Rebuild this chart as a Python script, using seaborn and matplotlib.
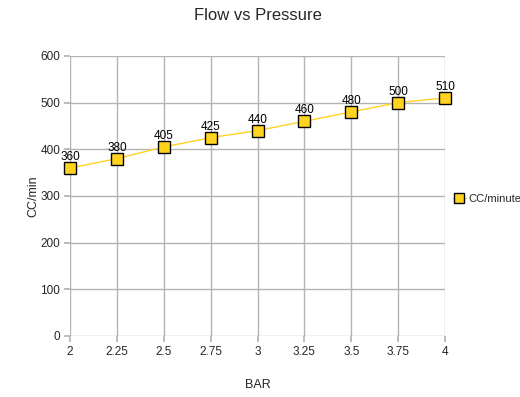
import matplotlib
matplotlib.use('Agg')
import matplotlib.pyplot as plt
import seaborn as sns
import pandas as pd

bar = [2, 2.25, 2.5, 2.75, 3, 3.25, 3.5, 3.75, 4]
cc_minute = [360, 380, 405, 425, 440, 460, 480, 500, 510]
series_name = 'CC/minute'

sns.set_theme(style='white')
plt.rcParams['font.family'] = ['Liberation Sans', 'DejaVu Sans']

data = pd.DataFrame({'BAR': bar, series_name: cc_minute})

fig = plt.figure(figsize=(5.2, 3.97), dpi=100)
ax = fig.add_axes([0.1346, 0.1537, 0.7212, 0.7053])

sns.lineplot(data=data, x='BAR', y=series_name, ax=ax, color='#ffd320', lw=1,
             marker='s', markersize=8.5, markerfacecolor='#ffd320',
             markeredgecolor='black', markeredgewidth=1, label=series_name,
             zorder=3, clip_on=False)

for xv, yv in zip(bar, cc_minute):
    ax.annotate(str(yv), (xv, yv), xytext=(0, 3.5), textcoords='offset points',
                ha='center', va='bottom', fontsize=8.5, color='black')

ax.set_xlim(2, 4)
ax.set_ylim(0, 600)
ax.set_xticks(bar)
ax.set_xticklabels(['2', '2.25', '2.5', '2.75', '3', '3.25', '3.5', '3.75', '4'])
ax.set_yticks(range(0, 601, 100))
ax.grid(True, color='#b3b3b3', lw=1)
for s in ax.spines.values():
    s.set_visible(False)
ax.tick_params(axis='both', length=4, color='#b3b3b3', labelsize=8.5, pad=3,
               left=True, bottom=True)

ax.set_xlabel('BAR', fontsize=9, labelpad=15)
ax.set_ylabel('CC/min', fontsize=9, labelpad=1)
ax.set_title('Flow vs Pressure', fontsize=12, pad=26)

leg = ax.legend(loc='center left', bbox_to_anchor=(1.0, 0.49), frameon=False,
                fontsize=8, handlelength=1.2, handletextpad=0.2, borderaxespad=0.3)
for h in leg.legend_handles:
    h.set_markersize(7)

fig.savefig('out.png', dpi=100)
